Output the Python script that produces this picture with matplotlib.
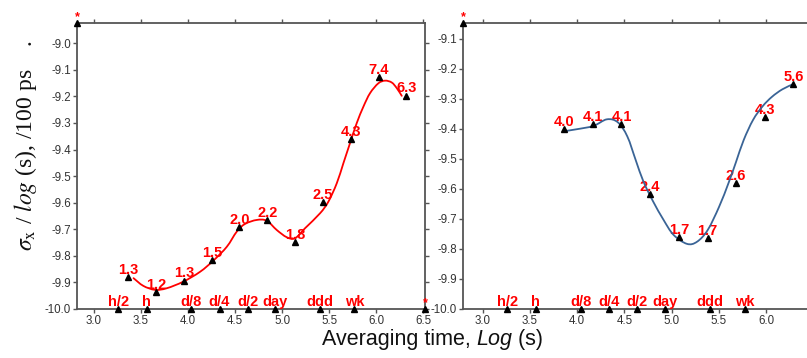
import matplotlib
matplotlib.use('Agg')
import matplotlib.pyplot as plt
from matplotlib.path import Path
from matplotlib.patches import PathPatch

plt.rcParams['font.family'] = ['Liberation Sans', 'DejaVu Sans']
plt.rcParams['axes.unicode_minus'] = False
plt.rcParams['mathtext.fontset'] = 'stix'

# ---------------- data ----------------
left_x = [3.365, 3.66, 3.96, 4.259, 4.546, 4.844, 5.138, 5.433, 5.734, 6.029, 6.322]
left_y = [-9.878, -9.937, -9.893, -9.817, -9.692, -9.665, -9.748, -9.597, -9.361, -9.128, -9.197]
left_lbl = ['1.3', '1.2', '1.3', '1.5', '2.0', '2.2', '1.8', '2.5', '4.3', '7.4', '6.3']

left_curve_x = [3.42, 3.524, 3.649, 3.773, 3.95, 4.128, 4.269, 4.412, 4.518, 4.606, 4.731,
                4.837, 4.944, 5.05, 5.138, 5.245, 5.404, 5.493, 5.582, 5.652, 5.723,
                5.794, 5.865, 5.936, 6.024, 6.096, 6.167, 6.22, 6.273]
left_curve_y = [-9.884, -9.913, -9.928, -9.922, -9.897, -9.860, -9.818, -9.766, -9.709, -9.680, -9.665,
                -9.668, -9.703, -9.730, -9.734, -9.696, -9.640, -9.596, -9.527, -9.452, -9.376,
                -9.301, -9.239, -9.188, -9.151, -9.141, -9.148, -9.169, -9.198]

right_x = [3.865, 4.168, 4.468, 4.772, 5.076, 5.38, 5.68, 5.983, 6.287]
right_y = [-9.399, -9.384, -9.384, -9.616, -9.761, -9.764, -9.579, -9.361, -9.251]
right_lbl = ['4.0', '4.1', '4.1', '2.4', '1.7', '1.7', '2.6', '4.3', '5.6']

right_curve_x = [3.872, 3.996, 4.172, 4.314, 4.43, 4.53, 4.62, 4.70, 4.80, 4.913, 5.019, 5.161,
                 5.267, 5.38, 5.50, 5.602, 5.68, 5.761, 5.86, 5.96, 6.06, 6.17, 6.29]
right_curve_y = [-9.407, -9.401, -9.390, -9.368, -9.378, -9.425, -9.505, -9.575, -9.640, -9.703, -9.753, -9.783,
                 -9.776, -9.737, -9.660, -9.579, -9.510, -9.437, -9.370, -9.325, -9.293, -9.268, -9.250]

time_lbl = ['h/2', 'h', 'd/8', 'd/4', 'd/2', 'day', 'ddd', 'wk']
time_x = [3.26, 3.56, 4.035, 4.335, 4.635, 4.93, 5.405, 5.77]

left_corner_x = [2.822, 6.521]
left_corner_y = [-8.924, -10.0]
right_corner_x = [2.795]
right_corner_y = [-9.047]
right_xmax = 6.44

left_xticks = [3.0, 3.5, 4.0, 4.5, 5.0, 5.5, 6.0, 6.5]
left_yticks = [-10.0, -9.9, -9.8, -9.7, -9.6, -9.5, -9.4, -9.3, -9.2, -9.1, -9.0]
right_xticks = [3.0, 3.5, 4.0, 4.5, 5.0, 5.5, 6.0]
right_yticks = [-10.0, -9.9, -9.8, -9.7, -9.6, -9.5, -9.4, -9.3, -9.2, -9.1]

# ---------------- figure ----------------
fig = plt.figure(figsize=(8.07, 3.58), dpi=100)
axL = fig.add_axes([0.0958, 0.1369, 0.4309, 0.7989])
axR = fig.add_axes([0.5741, 0.1369, 0.4270, 0.7989])

lbl_kw = dict(textcoords='offset points', ha='center', va='baseline',
              color='#ff0000', fontsize=10.5, fontweight='bold', annotation_clip=False)


def style(ax, xticks, yticks, xlim, ylim):
    ax.set_xlim(xlim)
    ax.set_ylim(ylim)
    ax.set_xticks(xticks)
    ax.set_yticks(yticks)
    ax.set_xticklabels(['%.1f' % v for v in xticks])
    ax.set_yticklabels(['%.1f' % v for v in yticks])
    ax.tick_params(direction='out', length=3, width=1, top=True, right=True,
                   color='#555555', labelcolor='#333333', labelsize=8.3, pad=1.5)
    for s in ax.spines.values():
        s.set_color('#555555')
        s.set_linewidth(1.3)
    ax.patch.set_alpha(0)


def marks(ax, xs, ys, lbls, dy=2.2, size=None):
    ax.plot(xs, ys, linestyle='none', marker='^', color='black', markersize=5,
            clip_on=False, zorder=5)
    kw = dict(lbl_kw)
    if size:
        kw['fontsize'] = size
    for x, y, t in zip(xs, ys, lbls):
        ax.annotate(t, (x, y), xytext=(0, dy), **kw)


def smooth_curve(ax, xs, ys, color):
    # Catmull-Rom style cubic Bezier path through the read points (drawn by matplotlib)
    pts = list(zip(xs, ys))
    verts = [pts[0]]
    codes = [Path.MOVETO]
    n = len(pts)
    for i in range(n - 1):
        p0 = pts[i - 1] if i > 0 else pts[i]
        p1 = pts[i]
        p2 = pts[i + 1]
        p3 = pts[i + 2] if i + 2 < n else pts[i + 1]
        c1 = (p1[0] + (p2[0] - p0[0]) / 6.0, p1[1] + (p2[1] - p0[1]) / 6.0)
        c2 = (p2[0] - (p3[0] - p1[0]) / 6.0, p2[1] - (p3[1] - p1[1]) / 6.0)
        verts += [c1, c2, p2]
        codes += [Path.CURVE4] * 3
    patch = PathPatch(Path(verts, codes), facecolor='none', edgecolor=color,
                      linewidth=1.3, zorder=4, capstyle='round', joinstyle='round')
    ax.add_patch(patch)


# left panel
style(axL, left_xticks, left_yticks, (left_corner_x[0], left_corner_x[1]),
      (left_corner_y[1], left_corner_y[0]))
smooth_curve(axL, left_curve_x, left_curve_y, '#ff0000')
marks(axL, left_x, left_y, left_lbl)
marks(axL, time_x, [-10.0] * len(time_x), time_lbl)
marks(axL, left_corner_x, left_corner_y, ['*', '*'], size=9)

# right panel
style(axR, right_xticks, right_yticks, (right_corner_x[0], right_xmax),
      (-10.0, right_corner_y[0]))
smooth_curve(axR, right_curve_x, right_curve_y, '#3a6496')
marks(axR, right_x, right_y, right_lbl)
marks(axR, time_x, [-10.0] * len(time_x), time_lbl)
marks(axR, right_corner_x, right_corner_y, ['*'], size=9)

# y axis title (serif)
fig.text(0.031, 0.595, r'$\sigma_{\mathrm{x}}$ / $log$ (s), /100 ps    .',
         rotation=90, ha='center', va='center', fontsize=17,
         family=['Liberation Serif', 'DejaVu Serif'], color='#111111')

# x axis title: mixed upright / italic sans-serif pieces
parts = [('Averaging time, ', 'normal'), ('Log', 'italic'), (' (s)', 'normal')]
renderer = fig.canvas.get_renderer()
texts = []
for s, st in parts:
    t = fig.text(0, 0.036, s, fontsize=15.5, style=st, color='#111111',
                 ha='left', va='baseline')
    texts.append(t)
widths = [t.get_window_extent(renderer).width for t in texts]
total = sum(widths)
x0 = 432.5 - total / 2.0
for t, w in zip(texts, widths):
    t.set_x(x0 / 807.0)
    x0 += w

fig.savefig('out.png', dpi=100)
